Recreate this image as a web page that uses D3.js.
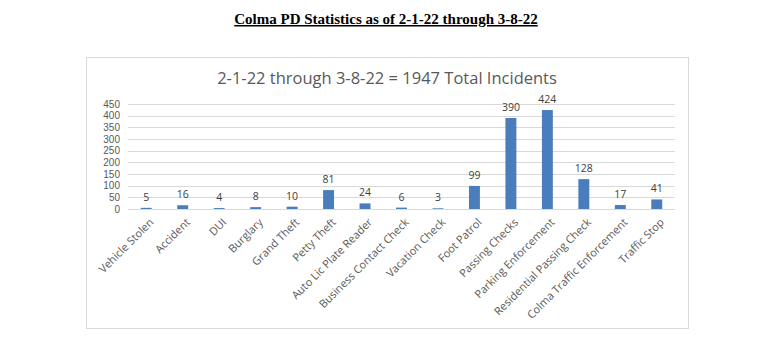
<!DOCTYPE html>
<html><head><meta charset="utf-8">
<script src="https://cdn.jsdelivr.net/npm/d3@7"></script>
<style>body{margin:0;background:#fff;}</style>
</head><body>
<svg id="c" width="772" height="361"></svg>
<script>
const categories = ["Vehicle Stolen","Accident","DUI","Burglary","Grand Theft","Petty Theft","Auto Lic Plate Reader","Business Contact Check","Vacation Check","Foot Patrol","Passing Checks","Parking Enforcement","Residential Passing Check","Colma Traffic Enforcement","Traffic Stop"];
const values = [5,16,4,8,10,81,24,6,3,99,390,424,128,17,41];
const yTicks = [0,50,100,150,200,250,300,350,400,450];
const pageTitle = "Colma PD Statistics as of 2-1-22 through 3-8-22";
const chartTitle = "2-1-22 through 3-8-22 = 1947 Total Incidents";

const svg = d3.select("#c");
svg.append("text").attr("x",386).attr("y",24).attr("text-anchor","middle")
  .attr("font-family","Liberation Serif, Times New Roman, serif").attr("font-weight","bold")
  .attr("font-size",15).attr("text-decoration","underline").text(pageTitle);

svg.append("rect").attr("x",86.5).attr("y",57.5).attr("width",602).attr("height",271)
  .attr("fill","#fff").attr("stroke","#d9d9d9");

const font = "Open Sans, Liberation Sans, sans-serif";
svg.append("text").attr("x",387).attr("y",84).attr("text-anchor","middle")
  .attr("font-family",font).attr("font-size",16.5)
  .attr("fill","#595959").text(chartTitle);

const x = d3.scaleBand().domain(categories).range([128,675]).paddingInner(0.7).paddingOuter(0.35);
const y = d3.scaleLinear().domain([0,450]).range([209,104]);

const g = svg.append("g");
g.selectAll("line.grid").data(yTicks.slice(1)).join("line")
  .attr("x1",128).attr("x2",675).attr("y1",d=>Math.round(y(d))+0.5).attr("y2",d=>Math.round(y(d))+0.5)
  .attr("stroke","#d9d9d9");

const yAxis = svg.append("g").attr("transform","translate(128,0)")
  .call(d3.axisLeft(y).tickValues(yTicks).tickSize(0).tickPadding(8));
yAxis.select(".domain").remove();
yAxis.selectAll("text").attr("font-family","Liberation Sans, Arial, sans-serif").attr("font-size",10).attr("fill","#595959");

g.selectAll("rect.bar").data(values).join("rect")
  .attr("x",(d,i)=>x(categories[i])).attr("width",x.bandwidth())
  .attr("y",d=>y(d)).attr("height",d=>y(0)-y(d)).attr("fill","#4a7dbb");

g.selectAll("text.lbl").data(values).join("text")
  .attr("x",(d,i)=>x(categories[i])+x.bandwidth()/2).attr("y",d=>y(d)-7)
  .attr("text-anchor","middle").attr("font-family",font).attr("font-size",10.5)
  .attr("fill","#404040").text(d=>d);

const xAxis = svg.append("g").attr("transform","translate(0,209)")
  .call(d3.axisBottom(x).tickSize(0).tickPadding(0));
xAxis.select(".domain").attr("stroke","#d9d9d9").attr("d","M128,0.5H675");
xAxis.selectAll("text").attr("font-family",font).attr("font-size",11).attr("fill","#595959")
  .attr("text-anchor","end").attr("dy",0)
  .attr("transform","translate(8,14) rotate(-45)");
</script>
</body></html>
